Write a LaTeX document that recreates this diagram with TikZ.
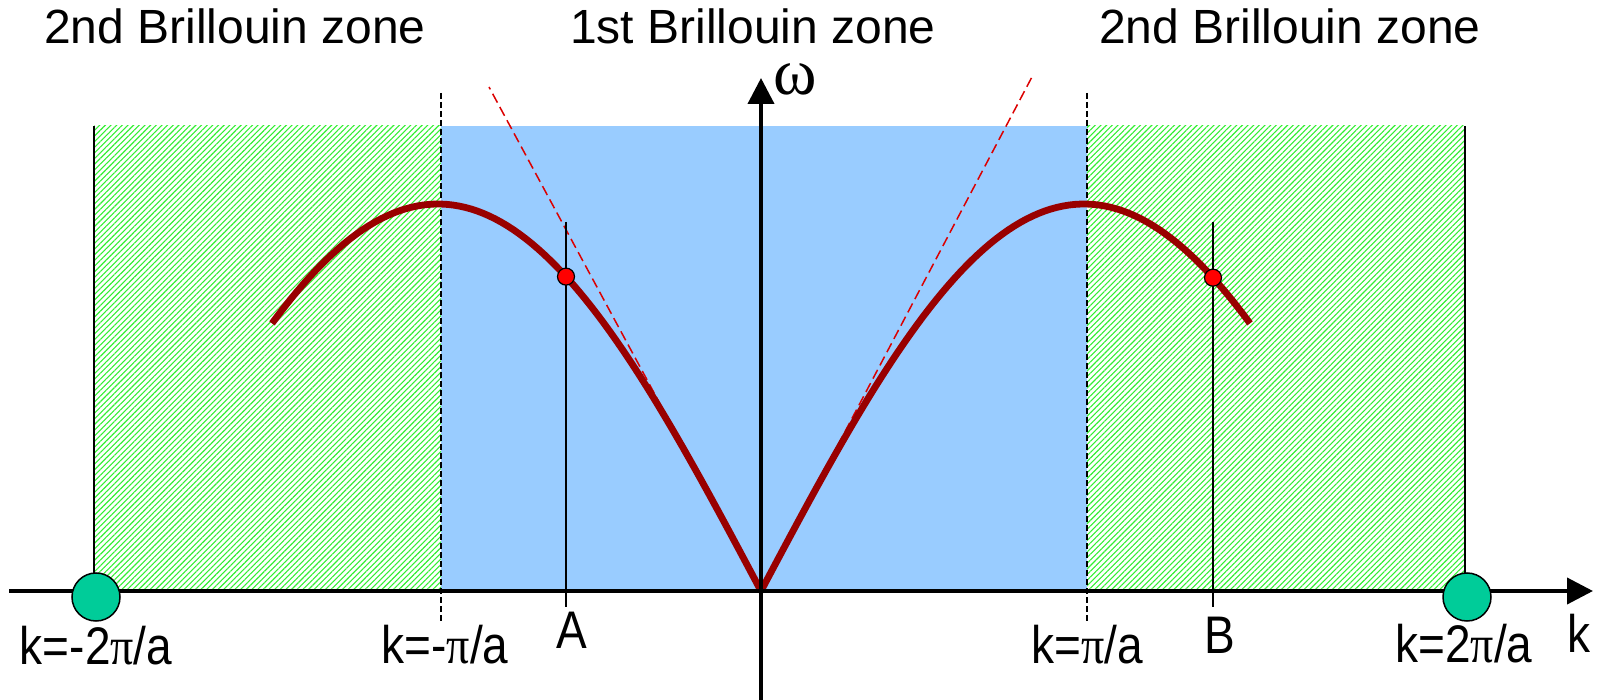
\documentclass[tikz,border=0pt]{standalone}
\usepackage{fontspec}
\setmainfont{Liberation Sans}
\newfontfamily\greekfont{Liberation Serif}
\usepackage{graphicx}
\usetikzlibrary{arrows.meta,patterns.meta}
\definecolor{zoneBlue}{RGB}{153,204,255}
\definecolor{zoneGreen}{RGB}{50,240,50}
\definecolor{curveRed}{RGB}{153,0,0}
\definecolor{tanRed}{RGB}{220,0,0}
\definecolor{edgeGreen}{RGB}{0,204,153}
\newcommand{\tallk}[1]{\scalebox{1}[1.15]{#1}}

\begin{document}
\begin{tikzpicture}[x=0.5pt,y=-0.5pt,
      zonetitle/.style={anchor=base,inner sep=0pt,font=\fontsize{24}{28}\selectfont},
      klabel/.style={anchor=base,inner sep=0pt,font=\fontsize{23}{27}\selectfont},
      hatch/.style={pattern={Lines[angle=45,distance=2pt,line width=0.55pt]},pattern color=zoneGreen},
      axis/.style={line width=2pt,-{Triangle[length=13pt,width=13pt]}},
      bound/.style={black,line width=0.75pt,dash pattern=on 3pt off 1.5pt},
      marker/.style={black,line width=0.75pt},
      tangent/.style={tanRed,line width=0.75pt,dash pattern=on 5pt off 2.5pt},
      branch/.style={curveRed,line width=3.4pt,line join=round},
      edgedot/.style={circle,draw=black,line width=0.75pt,fill=edgeGreen,minimum size=24pt,inner sep=0pt},
      reddot/.style={circle,draw=black,line width=0.6pt,fill=red,minimum size=8.5pt,inner sep=0pt}]
    \useasboundingbox (0,0) rectangle (1602,700);
    \coordinate (O) at (761,591);
    % zones
    \fill[hatch] (94,126) rectangle (441,591);
    \fill[hatch] (1087,126) rectangle (1465,591);
    \fill[zoneBlue] (441,126) rectangle (1087,591);
    \draw[marker] (94,126) -- (94,591);
    \draw[marker] (1465,126) -- (1465,591);
    \draw[bound] (441,93) -- (441,623);
    \draw[bound] (1087,93) -- (1087,623);
    % tangents at k=0
    \draw[tangent] (O) -- (489,87);
    \draw[tangent] (O) -- (1033,75);
    % dispersion curve
    \draw[branch] plot[domain=-489:489,samples=163,variable=\k]
      ({761+\k},{591-387*abs(sin(\k/323*90))});
    \draw[marker] (566,222) -- (566,607);
    \draw[marker] (1213,222) -- (1213,607);
    \node[reddot] (dotA) at (566,{591-387*abs(sin(-195/323*90))}) {};
    \node[reddot] (dotB) at (1213,{591-387*abs(sin(452/323*90))}) {};
    % axes
    \draw[axis] (9,591) -- (1593,591);
    \draw[axis] (761,700) -- (761,78);
    \node[edgedot] (kmin) at (96,597) {};
    \node[edgedot] (kmax) at (1467,597) {};
    % labels
    \node[zonetitle] (zoneL) at (235,44) {2nd Brillouin zone};
    \node[zonetitle] (zoneC) at (753,44) {1st Brillouin zone};
    \node[zonetitle] (zoneR) at (1290,44) {2nd Brillouin zone};
    \node[klabel] (labmtwo) at (96,664) {\tallk{k=-2{\greekfont π}/a}};
    \node[klabel] (labmone) at (445,663) {\tallk{k=-{\greekfont π}/a}};
    \node[klabel] (labA) at (572,648) {\tallk{A}};
    \node[klabel] (labone) at (1087,663) {\tallk{k={\greekfont π}/a}};
    \node[klabel] (labB) at (1220,653) {\tallk{B}};
    \node[klabel] (labtwo) at (1464,662) {\tallk{k=2{\greekfont π}/a}};
    \node[klabel] (labk) at (1579,652) {\tallk{k}};
    \node[anchor=base,inner sep=0pt,text height=11pt,text depth=0pt,
          font=\fontsize{33}{36}\selectfont\greekfont] (omega) at (795,95) {ω};
  \end{tikzpicture}
\end{document}
